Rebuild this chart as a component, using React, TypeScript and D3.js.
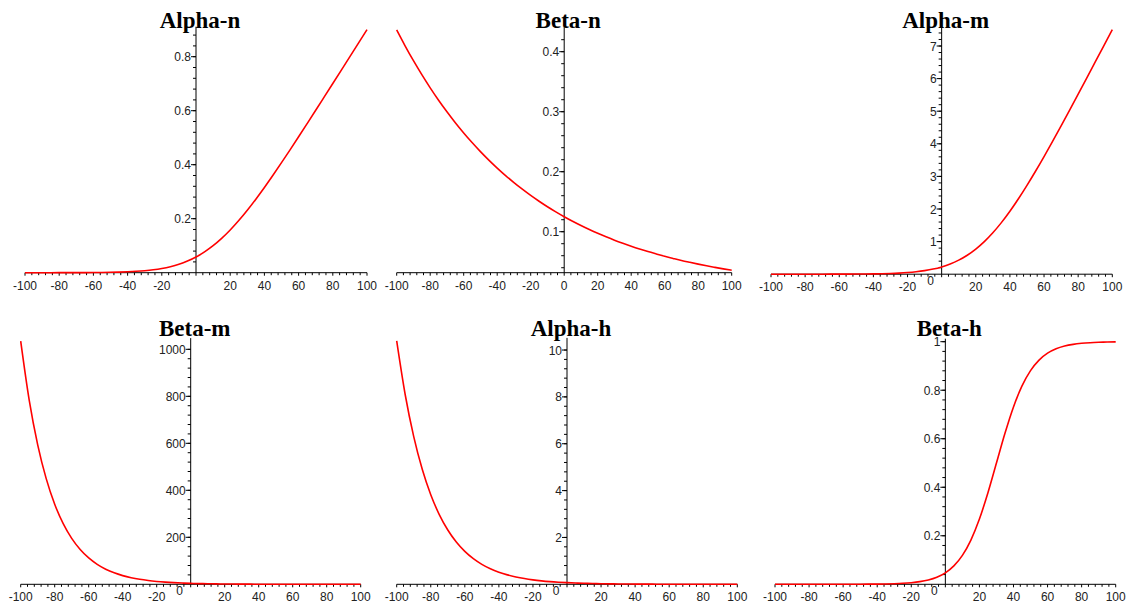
import React, { useRef, useEffect } from "react";
import * as d3 from "d3";

// membrane potential (mV), sampled every 5 mV
const voltage = [
  -100, -95, -90, -85, -80, -75, -70, -65, -60, -55, -50, -45, -40, -35, -30, -25, -20, -15, -10, -5,
  0, 5, 10, 15, 20, 25, 30, 35, 40, 45, 50, 55, 60, 65, 70, 75, 80, 85, 90, 95, 100,
];

const alphaN = [
  0.00002, 0.00003, 0.000045, 0.00007, 0.00011, 0.00017, 0.00027, 0.00042, 0.00064, 0.00098,
  0.0015, 0.0023, 0.0034, 0.0051, 0.0075, 0.0109, 0.0157, 0.0224, 0.0313, 0.0431,
  0.0582, 0.0771, 0.1, 0.1271, 0.1582, 0.1931, 0.2313, 0.2724, 0.3157, 0.3609,
  0.4075, 0.4551, 0.5034, 0.5523, 0.6015, 0.651, 0.7006, 0.7504, 0.8003, 0.8502, 0.9001,
];

const betaN = [
  0.4363, 0.4099, 0.385, 0.3617, 0.3398, 0.3192, 0.2999, 0.2817, 0.2646, 0.2486,
  0.2335, 0.2194, 0.2061, 0.1936, 0.1819, 0.1709, 0.1605, 0.1508, 0.1416, 0.1331,
  0.125, 0.1174, 0.1103, 0.1036, 0.0974, 0.0915, 0.0859, 0.0807, 0.0758, 0.0712,
  0.0669, 0.0629, 0.059, 0.0555, 0.0521, 0.049, 0.046, 0.0432, 0.0406, 0.0381, 0.0358,
];

const alphaM = [
  0.00005, 0.00007, 0.00012, 0.00018, 0.00029, 0.00045, 0.00071, 0.0011, 0.0017, 0.0027,
  0.0042, 0.0064, 0.0098, 0.0149, 0.0226, 0.0339, 0.0506, 0.0746, 0.109, 0.157,
  0.224, 0.313, 0.431, 0.582, 0.771, 1.0, 1.271, 1.582, 1.931, 2.313,
  2.724, 3.157, 3.609, 4.075, 4.551, 5.034, 5.523, 6.015, 6.51, 7.006, 7.504,
];

const betaM = [
  1034.8, 783.7, 593.7, 449.6, 340.6, 258.0, 195.4, 148.0, 112.1, 84.9,
  64.3, 48.7, 36.9, 27.96, 21.18, 16.04, 12.15, 9.2, 6.97, 5.28,
  4.0, 3.03, 2.3, 1.74, 1.32, 1.0, 0.756, 0.572, 0.434, 0.328,
  0.249, 0.188, 0.143, 0.108, 0.082, 0.062, 0.047, 0.036, 0.027, 0.02, 0.015,
];

const alphaH = [
  10.389, 8.091, 6.301, 4.907, 3.822, 2.976, 2.318, 1.805, 1.406, 1.095,
  0.853, 0.664, 0.517, 0.403, 0.314, 0.244, 0.19, 0.148, 0.115, 0.0899,
  0.07, 0.0545, 0.0425, 0.0331, 0.0258, 0.0201, 0.0156, 0.0122, 0.0095, 0.0074,
  0.0057, 0.0045, 0.0035, 0.0027, 0.0021, 0.0016, 0.0013, 0.001, 0.0008, 0.0006, 0.0005,
];

const betaH = [
  0.000002, 0.000004, 0.000006, 0.00001, 0.000017, 0.000028, 0.000045, 0.000075, 0.00012, 0.0002,
  0.00034, 0.00055, 0.00091, 0.0015, 0.0025, 0.0041, 0.0067, 0.011, 0.018, 0.0293,
  0.0474, 0.0759, 0.1192, 0.1824, 0.2689, 0.3775, 0.5, 0.6225, 0.7311, 0.8176,
  0.8808, 0.9241, 0.9526, 0.9707, 0.982, 0.989, 0.9933, 0.9959, 0.9975, 0.9985, 0.9991,
];

const xTicks = [-100, -80, -60, -40, -20, 0, 20, 40, 60, 80, 100];
const yTicksAlphaN = [0.2, 0.4, 0.6, 0.8];
const yTicksBetaN = [0.1, 0.2, 0.3, 0.4];
const yTicksAlphaM = [1, 2, 3, 4, 5, 6, 7];
const yTicksBetaM = [200, 400, 600, 800, 1000];
const yTicksAlphaH = [2, 4, 6, 8, 10];
const yTicksBetaH = [0.2, 0.4, 0.6, 0.8, 1];

// panel layout (pixel frames) and options
const panels = [
  { title: "Alpha-n", values: alphaN, ticks: yTicksAlphaN, minor: 0.04, domain: [0, 0.9], xr: [25, 367], yr: [272.7, 29.7], titleY: 28, zeroTick: false, origin: false },
  { title: "Beta-n", values: betaN, ticks: yTicksBetaN, minor: 0.02, domain: [0.0317, 0.436], xr: [396.7, 731.7], yr: [272.7, 30.1], titleY: 28, zeroTick: true, origin: false },
  { title: "Alpha-m", values: alphaM, ticks: yTicksAlphaM, minor: 0.2, domain: [0, 7.5], xr: [771, 1112.3], yr: [274.2, 29.7], titleY: 28, zeroTick: false, origin: true },
  { title: "Beta-m", values: betaM, ticks: yTicksBetaM, minor: 40, domain: [0, 1035], xr: [20.7, 360.7], yr: [584.3, 341.1], titleY: 336, zeroTick: false, origin: true },
  { title: "Alpha-h", values: alphaH, ticks: yTicksAlphaH, minor: 0.4, domain: [0, 10.39], xr: [396.7, 737.3], yr: [584.3, 340.9], titleY: 336, zeroTick: false, origin: true },
  { title: "Beta-h", values: betaH, ticks: yTicksBetaH, minor: 0.04, domain: [0, 1], xr: [775, 1115.7], yr: [584.3, 341.7], titleY: 335.5, zeroTick: false, origin: true },
];

const fmt = (v: number) => String(+v.toFixed(3));

function App() {
  const svgRef = useRef<SVGSVGElement>(null);

  useEffect(() => {
    const svg = d3.select(svgRef.current);
    svg.selectAll("*").remove();

    panels.forEach((p) => {
      const x = d3.scaleLinear().domain([-100, 100]).range(p.xr);
      const y = d3.scaleLinear().domain(p.domain).range(p.yr);
      const g = svg.append("g");
      const ax = x(0);
      const ay = y(p.domain[0]);

      // x axis
      g.append("line")
        .attr("x1", x(-100)).attr("x2", x(100))
        .attr("y1", ay).attr("y2", ay)
        .attr("stroke", "#000").attr("stroke-width", 1);
      for (let v = -100; v <= 100; v += 4) {
        const major = v % 20 === 0;
        g.append("line")
          .attr("x1", x(v)).attr("x2", x(v))
          .attr("y1", ay).attr("y2", ay + (major ? 3 : 2.5))
          .attr("stroke", "#000").attr("stroke-width", 1);
      }
      g.selectAll(".xl")
        .data(xTicks.filter((t) => t !== 0 || p.zeroTick))
        .join("text")
        .attr("x", (d) => x(d))
        .attr("y", ay + 17)
        .attr("text-anchor", "middle")
        .attr("font-family", "Liberation Sans, Arial, sans-serif")
        .attr("font-size", 12)
        .attr("fill", "#222")
        .text((d) => String(d));

      // y axis
      g.append("line")
        .attr("x1", ax).attr("x2", ax)
        .attr("y1", ay).attr("y2", p.yr[1] - 3)
        .attr("stroke", "#000").attr("stroke-width", 1);
      const n = Math.floor(p.domain[1] / p.minor + 1e-6);
      for (let i = 0; i <= n; i++) {
        const v = i * p.minor;
        if (v <= p.domain[0]) continue;
        g.append("line")
          .attr("x1", ax - 3).attr("x2", ax)
          .attr("y1", y(v)).attr("y2", y(v))
          .attr("stroke", "#000").attr("stroke-width", 1);
      }
      g.selectAll(".yt")
        .data(p.ticks)
        .join("line")
        .attr("x1", ax - 5).attr("x2", ax)
        .attr("y1", (d) => y(d)).attr("y2", (d) => y(d))
        .attr("stroke", "#000").attr("stroke-width", 1);
      g.selectAll(".yl")
        .data(p.ticks)
        .join("text")
        .attr("x", ax - 5)
        .attr("y", (d) => y(d) + 4.5)
        .attr("text-anchor", "end")
        .attr("font-family", "Liberation Sans, Arial, sans-serif")
        .attr("font-size", 12)
        .attr("fill", "#222")
        .text((d) => fmt(d));

      if (p.origin) {
        g.append("text")
          .attr("x", ax - 11)
          .attr("y", ay + 10.5)
          .attr("text-anchor", "middle")
          .attr("font-family", "Liberation Sans, Arial, sans-serif")
          .attr("font-size", 12)
          .attr("fill", "#222")
          .text("0");
      }

      // curve
      const line = d3
        .line<number>()
        .x((d, i) => x(voltage[i]))
        .y((d) => y(d))
        .curve(d3.curveMonotoneX);
      g.append("path")
        .datum(p.values)
        .attr("fill", "none")
        .attr("stroke", "#ff0000")
        .attr("stroke-width", 1.6)
        .attr("d", line);

      // title
      g.append("text")
        .attr("x", ax + 4)
        .attr("y", p.titleY)
        .attr("text-anchor", "middle")
        .attr("font-family", "Liberation Serif, Times New Roman, serif")
        .attr("font-weight", "bold")
        .attr("font-size", 23)
        .attr("fill", "#000")
        .text(p.title);
    });
  }, []);

  return (
    <svg
      ref={svgRef}
      width={1130}
      height={606}
      style={{ position: "absolute", left: 0, top: 0, background: "#fff" }}
    />
  );
}

export default App;
